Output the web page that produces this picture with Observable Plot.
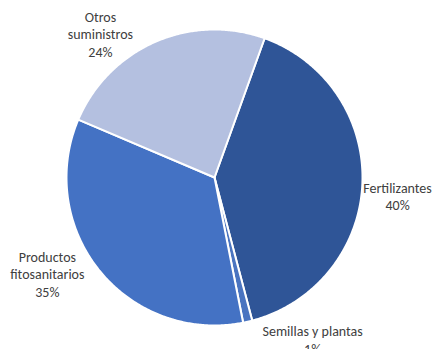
<!DOCTYPE html>
<html><head><meta charset="utf-8">
<script src="https://cdn.jsdelivr.net/npm/d3@7"></script>
<script src="https://cdn.jsdelivr.net/npm/@observablehq/plot@0.6"></script>
<style>
html,body{margin:0;padding:0;background:#fff;}
</style>
</head><body><div id="chart"></div>
<script>
// Data
const categories = ["Fertilizantes", "Semillas y plantas", "Productos\nfitosanitarios", "Otros\nsuministros"];
const values = [40.4, 1.0, 34.5, 24.1];
const percentLabels = ["40%", "1%", "35%", "24%"];
const colors = ["#2F5597", "#4A74C0", "#4472C4", "#B4C0E0"];

// Layout (styling)
const W = 435, H = 349, R = 148, CX = 214, CY = 177;
const startDeg = 19.8;
const labelR = 1.15;
const labelDx = [13, 60, -35, -46];
const labelDy = [11, -4, -11, 12];

const pie = d3.pie().sort(null).value(d => d.value)
  .startAngle(startDeg * Math.PI / 180)
  .endAngle((startDeg + 360) * Math.PI / 180);
const rows = categories.map((c, i) => ({name: c, value: values[i], label: c + "\n" + percentLabels[i], color: colors[i], i}));
const arcs = pie(rows);

const pts = [];
arcs.forEach(a => {
  const n = Math.max(4, Math.ceil((a.endAngle - a.startAngle) / (Math.PI / 360)));
  pts.push({name: a.data.name, x: 0, y: 0});
  for (let k = 0; k <= n; k++) {
    const t = a.startAngle + (a.endAngle - a.startAngle) * k / n;
    pts.push({name: a.data.name, x: Math.sin(t), y: Math.cos(t)});
  }
  pts.push({name: a.data.name, x: 0, y: 0});
});

const labels = arcs.map(a => {
  const m = (a.startAngle + a.endAngle) / 2;
  return {label: a.data.label, x: labelR * Math.sin(m), y: labelR * Math.cos(m), i: a.data.i};
});

const chart = Plot.plot({
  width: W, height: H,
  margin: 0,
  x: {domain: [-CX / R, (W - CX) / R], axis: null},
  y: {domain: [-(H - CY) / R, CY / R], axis: null},
  color: {domain: categories, range: colors},
  style: {fontFamily: "Carlito, Lato, sans-serif", background: "#fff"},
  marks: [
    Plot.line(pts, {x: "x", y: "y", z: "name", fill: "name", stroke: "#fff", strokeWidth: 2, strokeLinejoin: "round"}),
    Plot.text(labels, {x: "x", y: "y", text: "label", fill: "#404040", fontSize: 14, lineHeight: 1.25, lineAnchor: "middle", textAnchor: "middle",
      render: (index, scales, values, dims, ctx, next) => {
        const g = next(index, scales, values, dims, ctx);
        d3.select(g).selectAll("text").each(function(_, j) {
          const i = index[j];
          const d = labels[i];
          d3.select(this).attr("transform", `translate(${values.x[i] + labelDx[d.i]},${values.y[i] + labelDy[d.i]})`);
        });
        return g;
      }})
  ]
});
document.getElementById("chart").appendChild(chart);
</script>
</body></html>
